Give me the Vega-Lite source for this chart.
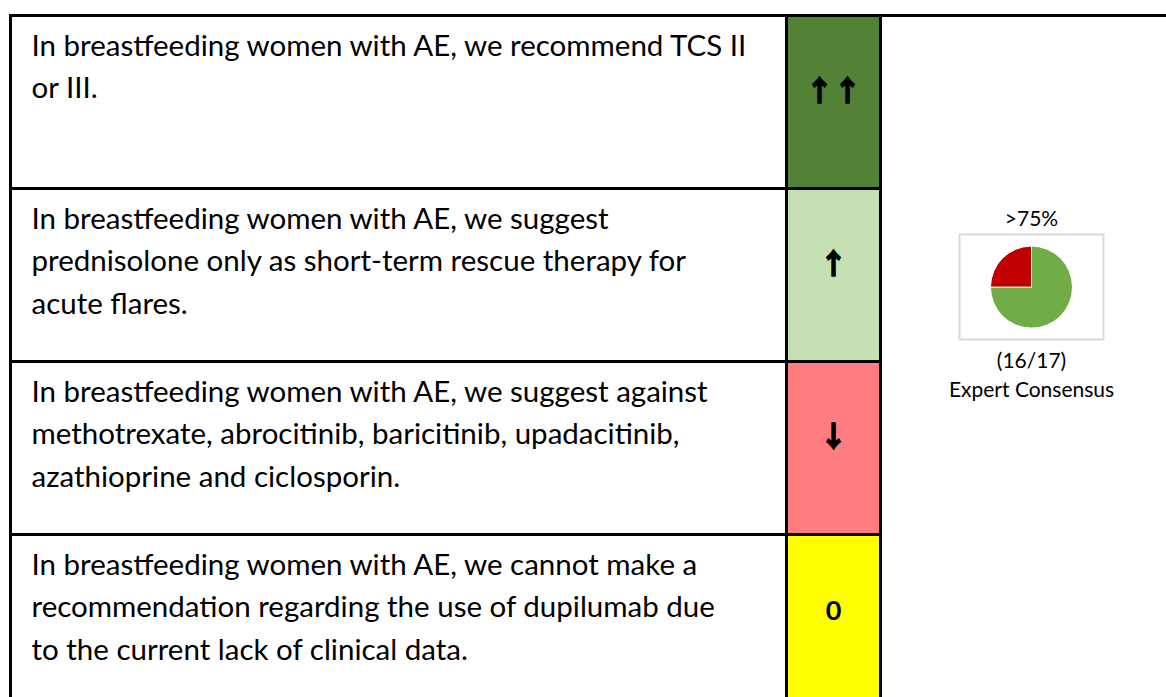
{
  "$schema": "https://vega.github.io/schema/vega-lite/v6.json",
  "background": "white",
  "padding": {"left": 8.5, "top": 13.5, "right": 0, "bottom": 0},
  "spacing": 0,
  "bounds": "flush",
  "config": {"view": {"stroke": null}, "concat": {"spacing": 0}},
  "datasets": {
    "rows": [
      {"row": 1, "lines": ["In breastfeeding women with AE, we recommend TCS II", "or III."], "grade": "↑↑", "strength": "strong for"},
      {"row": 2, "lines": ["In breastfeeding women with AE, we suggest", "prednisolone only as short-term rescue therapy for", "acute flares."], "grade": "↑", "strength": "weak for"},
      {"row": 3, "lines": ["In breastfeeding women with AE, we suggest against", "methotrexate, abrocitinib, baricitinib, upadacitinib,", "azathioprine and ciclosporin."], "grade": "↓", "strength": "weak against"},
      {"row": 4, "lines": ["In breastfeeding women with AE, we cannot make a", "recommendation regarding the use of dupilumab due", "to the current lack of clinical data."], "grade": "0", "strength": "none"}
    ],
    "pie": [
      {"row": 2, "seg": "agree", "pct": 75},
      {"row": 2, "seg": "disagree", "pct": 25}
    ],
    "labels": [
      {"row": 2, "top": ">75%", "bottom": ["(16/17)", "Expert Consensus"]}
    ]
  },
  "hconcat": [
    {
      "width": 776,
      "height": 692,
      "data": {"name": "rows"},
      "encoding": {
        "y": {"field": "row", "type": "ordinal", "axis": null, "scale": {"type": "band", "domain": [1, 2, 3, 4], "paddingInner": 0, "paddingOuter": 0}}
      },
      "layer": [
        {"mark": {"type": "rect", "fill": "white", "stroke": "black", "strokeWidth": 3}},
        {
          "mark": {"type": "text", "align": "left", "baseline": "middle", "font": "Lato", "fontSize": 29.5, "lineHeight": 42.5, "color": "black", "dx": 21, "dy": 31},
          "encoding": {
            "x": {"datum": "statement", "type": "nominal", "axis": null, "scale": {"type": "band", "paddingInner": 0, "paddingOuter": 0}, "bandPosition": 0},
            "y": {"field": "row", "type": "ordinal", "axis": null, "bandPosition": 0, "scale": {"type": "band", "domain": [1, 2, 3, 4], "paddingInner": 0, "paddingOuter": 0}},
            "text": {"field": "lines"}
          }
        }
      ]
    },
    {
      "width": 94,
      "height": 692,
      "data": {"name": "rows"},
      "encoding": {
        "y": {"field": "row", "type": "ordinal", "axis": null, "scale": {"type": "band", "domain": [1, 2, 3, 4], "paddingInner": 0, "paddingOuter": 0}}
      },
      "layer": [
        {
          "mark": {"type": "rect", "stroke": "black", "strokeWidth": 3},
          "encoding": {
            "fill": {"field": "strength", "type": "nominal", "legend": null, "scale": {"domain": ["strong for", "weak for", "weak against", "none"], "range": ["#538135", "#C5E0B3", "#FF7C80", "#FFFF00"]}}
          }
        },
        {
          "transform": [{"filter": "datum.grade != '0'"}],
          "mark": {"type": "text", "align": "center", "baseline": "middle", "font": "Noto Sans CJK JP", "fontWeight": "bold", "fontSize": 28, "color": "black", "stroke": "black", "strokeWidth": 1.6, "dy": -9},
          "encoding": {"text": {"field": "grade"}}
        },
        {
          "transform": [{"filter": "datum.grade == '0'"}],
          "mark": {"type": "text", "align": "center", "baseline": "middle", "font": "Lato", "fontWeight": "bold", "fontSize": 27, "color": "black", "dy": -9},
          "encoding": {"text": {"field": "grade"}}
        }
      ]
    },
    {
      "width": 302,
      "height": 692,
      "layer": [
        {
          "data": {"name": "rows"},
          "transform": [{"filter": "datum.row == 1"}],
          "mark": {"type": "rule", "stroke": "black", "strokeWidth": 3},
          "encoding": {
            "y": {"field": "row", "type": "ordinal", "axis": null, "bandPosition": 0, "scale": {"type": "band", "domain": [1, 2, 3, 4], "paddingInner": 0, "paddingOuter": 0}}
          }
        },
        {
          "data": {"name": "labels"},
          "mark": {"type": "point", "shape": "M-1.371,-1L1.371,-1L1.371,1L-1.371,1Z", "size": 11025, "filled": true, "fill": "white", "stroke": "#D9D9D9", "strokeWidth": 2, "opacity": 1},
          "encoding": {
            "y": {"field": "row", "type": "ordinal", "axis": null, "bandPosition": 0.57, "scale": {"type": "band", "domain": [1, 2, 3, 4], "paddingInner": 0, "paddingOuter": 0}}
          }
        },
        {
          "data": {"name": "pie"},
          "mark": {"type": "arc", "outerRadius": 41, "stroke": "white", "strokeWidth": 1},
          "encoding": {
            "y": {"field": "row", "type": "ordinal", "axis": null, "bandPosition": 0.57, "scale": {"type": "band", "domain": [1, 2, 3, 4], "paddingInner": 0, "paddingOuter": 0}},
            "theta": {"field": "pct", "type": "quantitative", "stack": true},
            "order": {"field": "seg", "sort": "ascending"},
            "color": {"field": "seg", "type": "nominal", "legend": null, "scale": {"domain": ["agree", "disagree"], "range": ["#70AD47", "#C00000"]}}
          }
        },
        {
          "data": {"name": "labels"},
          "mark": {"type": "text", "align": "center", "baseline": "middle", "font": "Lato", "fontSize": 21, "color": "black", "dy": -67},
          "encoding": {
            "y": {"field": "row", "type": "ordinal", "axis": null, "bandPosition": 0.57, "scale": {"type": "band", "domain": [1, 2, 3, 4], "paddingInner": 0, "paddingOuter": 0}},
            "text": {"field": "top"}
          }
        },
        {
          "data": {"name": "labels"},
          "mark": {"type": "text", "align": "center", "baseline": "middle", "font": "Lato", "fontSize": 21, "lineHeight": 29, "color": "black", "dy": 75},
          "encoding": {
            "y": {"field": "row", "type": "ordinal", "axis": null, "bandPosition": 0.57, "scale": {"type": "band", "domain": [1, 2, 3, 4], "paddingInner": 0, "paddingOuter": 0}},
            "text": {"field": "bottom"}
          }
        }
      ]
    }
  ]
}
